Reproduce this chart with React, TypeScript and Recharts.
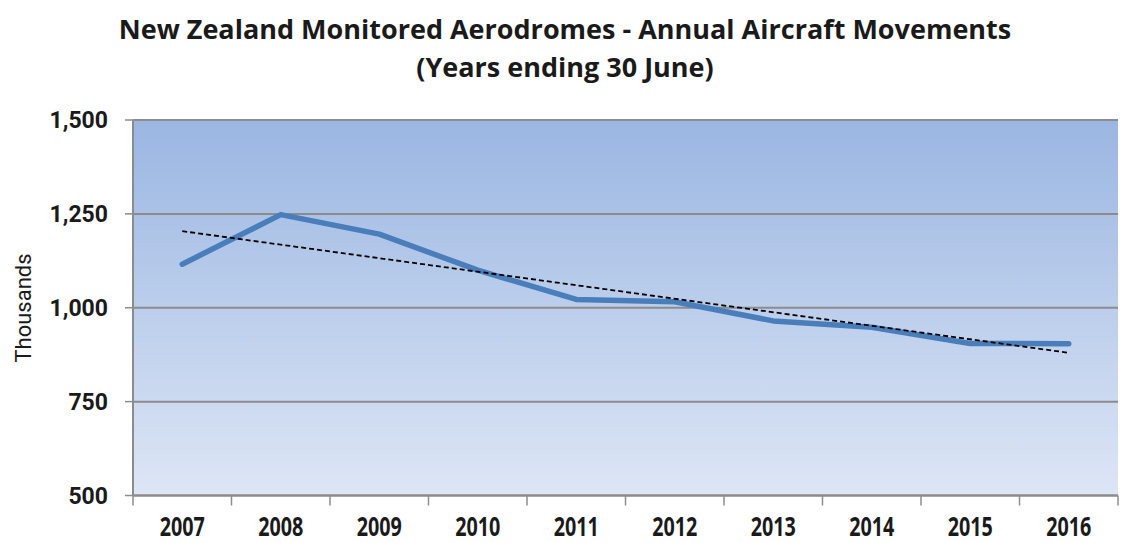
import { LineChart, Line, XAxis, YAxis, CartesianGrid } from "recharts";

const years = ["2007", "2008", "2009", "2010", "2011", "2012", "2013", "2014", "2015", "2016"];
// annual aircraft movements, thousands
const movements = [1116, 1248, 1196, 1100, 1022, 1016, 965, 948, 905, 904];
// linear trend, read at first and last year only
const trendEnds = [1204, 880];
const yTicks = [500, 750, 1000, 1250, 1500];

const W = 1126;
const H = 543;
const PLOT_LEFT = 133;
const PLOT_RIGHT = 1118;
const PLOT_TOP = 120;
const PLOT_BOTTOM = 495.5;
const BAND = (PLOT_RIGHT - PLOT_LEFT) / years.length;

const data = years.map((year, i) => ({
  year,
  movements: movements[i],
  trend: i === 0 ? trendEnds[0] : i === years.length - 1 ? trendEnds[1] : null,
}));

const GRID = "#8c8c8c";

function YearTick(props: any) {
  const { x, payload, index } = props;
  const left = x - BAND / 2;
  return (
    <g>
      <line x1={left} x2={left} y1={PLOT_BOTTOM} y2={PLOT_BOTTOM + 10} stroke={GRID} strokeWidth={1.5} />
      {index === years.length - 1 && (
        <line x1={x + BAND / 2} x2={x + BAND / 2} y1={PLOT_BOTTOM} y2={PLOT_BOTTOM + 10} stroke={GRID} strokeWidth={1.5} />
      )}
      <text
        x={x}
        y={PLOT_BOTTOM + 41}
        textAnchor="middle"
        fontFamily="'Open Sans', sans-serif"
        fontWeight={700}
        fontSize={26}
        fill="#1a1a1a"
        style={{ transform: "scaleX(0.76)", transformOrigin: `${x}px 0px` }}
      >
        {payload.value}
      </text>
    </g>
  );
}

export default function App() {
  return (
    <div style={{ position: "absolute", left: 0, top: 0, width: W, height: H, background: "#fff" }}>
      <div
        style={{
          position: "absolute",
          left: 0,
          width: 1130,
          top: 10,
          textAlign: "center",
          fontFamily: "'Open Sans', sans-serif",
          fontWeight: 700,
          fontSize: 27,
          lineHeight: "38px",
          color: "#1a1a1a",
        }}
      >
        <div>New Zealand Monitored Aerodromes - Annual Aircraft Movements</div>
        <div>(Years ending 30 June)</div>
      </div>
      <div
        style={{
          position: "absolute",
          left: 23,
          top: 308,
          transform: "translate(-50%, -50%) rotate(-90deg)",
          fontFamily: "Roboto, sans-serif",
          fontSize: 22,
          color: "#1a1a1a",
          whiteSpace: "nowrap",
        }}
      >
        Thousands
      </div>
      <LineChart
        width={W}
        height={H}
        data={data}
        margin={{ top: PLOT_TOP, right: W - PLOT_RIGHT, bottom: 0, left: 0 }}
        style={{ position: "absolute", left: 0, top: 0 }}
      >
        <defs>
          <linearGradient id="plotBg" x1="0" y1="0" x2="0" y2="1">
            <stop offset="0%" stopColor="#9ab6e2" />
            <stop offset="100%" stopColor="#dde6f5" />
          </linearGradient>
        </defs>
        <CartesianGrid
          vertical={false}
          fill="url(#plotBg)"
          fillOpacity={1}
          stroke={GRID}
          strokeWidth={2}
        />
        <XAxis
          dataKey="year"
          height={H - PLOT_BOTTOM}
          padding={{ left: BAND / 2, right: BAND / 2 }}
          axisLine={{ stroke: GRID, strokeWidth: 2 }}
          tickLine={false}
          tick={<YearTick />}
          interval={0}
        />
        <YAxis
          width={PLOT_LEFT}
          domain={[500, 1500]}
          ticks={yTicks}
          allowDataOverflow
          axisLine={{ stroke: GRID, strokeWidth: 2 }}
          tickLine={{ stroke: GRID, strokeWidth: 1.5 }}
          tickSize={8}
          tickMargin={17}
          tickFormatter={(v: number) => v.toLocaleString("en-US")}
          tick={{ fontFamily: "Roboto, sans-serif", fontWeight: 700, fontSize: 23, fill: "#1a1a1a" }}
        />
        <Line
          dataKey="movements"
          stroke="#4a7ebb"
          strokeWidth={5.5}
          strokeLinecap="round"
          strokeLinejoin="round"
          dot={false}
          activeDot={false}
          isAnimationActive={false}
        />
        <Line
          dataKey="trend"
          connectNulls
          stroke="#000"
          strokeWidth={1.8}
          strokeDasharray="5 3"
          dot={false}
          activeDot={false}
          isAnimationActive={false}
        />
      </LineChart>
    </div>
  );
}
